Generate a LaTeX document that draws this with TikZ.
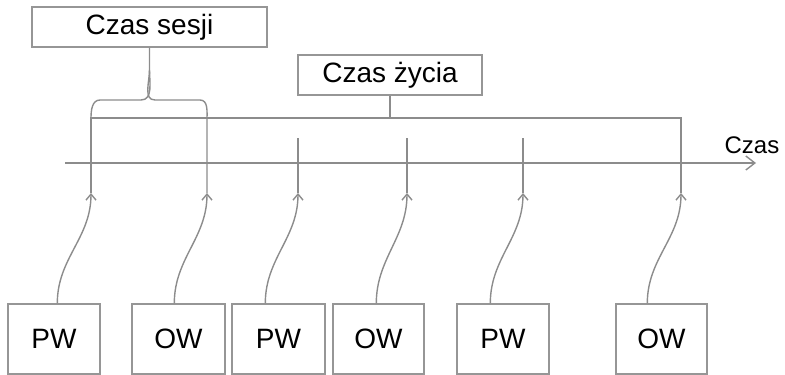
\documentclass[tikz,border=0pt]{standalone}
\usepackage{fontspec}
\setmainfont{Liberation Sans}
\usetikzlibrary{positioning,arrows.meta}
\definecolor{linegray}{RGB}{140,140,140}
\definecolor{boxgray}{RGB}{150,150,150}

\begin{document}
\begin{tikzpicture}
            [x=1pt,y=-1pt,line width=1.4pt,draw=linegray,>={Straight Barb[length=6pt,width=10pt]},
             every node/.style={draw=boxgray, rectangle, inner sep = 0pt, text=black, font=\fontsize{28}{30}\selectfont}]
          \useasboundingbox (0,0) rectangle (785,375);

          % labels on top
          \node[minimum width=235pt, minimum height=40pt] (sesja) at (149.5,27) {Czas sesji};
          \node[minimum width=184pt, minimum height=40pt] (zycie) at (390,75) {Czas życia};

          % time axis
          \draw[->, >={Straight Barb[length=9pt,width=14pt]}] (65,163) -- (756,163);
          \node[draw=none, font=\fontsize{24}{26}\selectfont] (czas) at (752,145) {Czas};

          % events
          \node[minimum width=92pt, minimum height=70pt] (b1) at (54,339) {PW};
          \node[minimum width=93pt, minimum height=70pt] (b2) at (178.5,339) {OW};
          \node[minimum width=93pt, minimum height=70pt] (b3) at (278.5,339) {PW};
          \node[minimum width=91pt, minimum height=70pt] (b4) at (378.5,339) {OW};
          \node[minimum width=92pt, minimum height=70pt] (b5) at (503,339) {PW};
          \node[minimum width=91pt, minimum height=70pt] (b6) at (661.5,339) {OW};

          \coordinate (t1) at (91,193);
          \coordinate (t2) at (207,193);
          \coordinate (t3) at (298,193);
          \coordinate (t4) at (407,193);
          \coordinate (t5) at (523,193);
          \coordinate (t6) at (681,193);

          \foreach \b/\off/\t in {b1/50/t1, b2/43/t2, b3/34/t3, b4/44/t4, b5/34/t5, b6/32/t6}
            \draw[->] ([xshift=\off pt]\b.north west) to[out=90, in=-90] (\t);

          \foreach \t in {t3, t4, t5}
            \draw (\t) -- ++(0,-55);

          % lifetime bracket
          \draw (t1) -- ++(0,-75) -| (t6);
          \draw (zycie.south) -- ++(0,23);

          % session brace
          \draw (91,118) to[out=90, in=180] (100,100) -- (141,100) to[out=0, in=-90] (sesja.south |- 0,70) -- (sesja.south);
          \draw (t2) -- ++(0,-73) to[out=90, in=0] (200,100) -- (155,100) to[out=180, in=-90] (sesja.south |- 0,70);
        \end{tikzpicture}
\end{document}
